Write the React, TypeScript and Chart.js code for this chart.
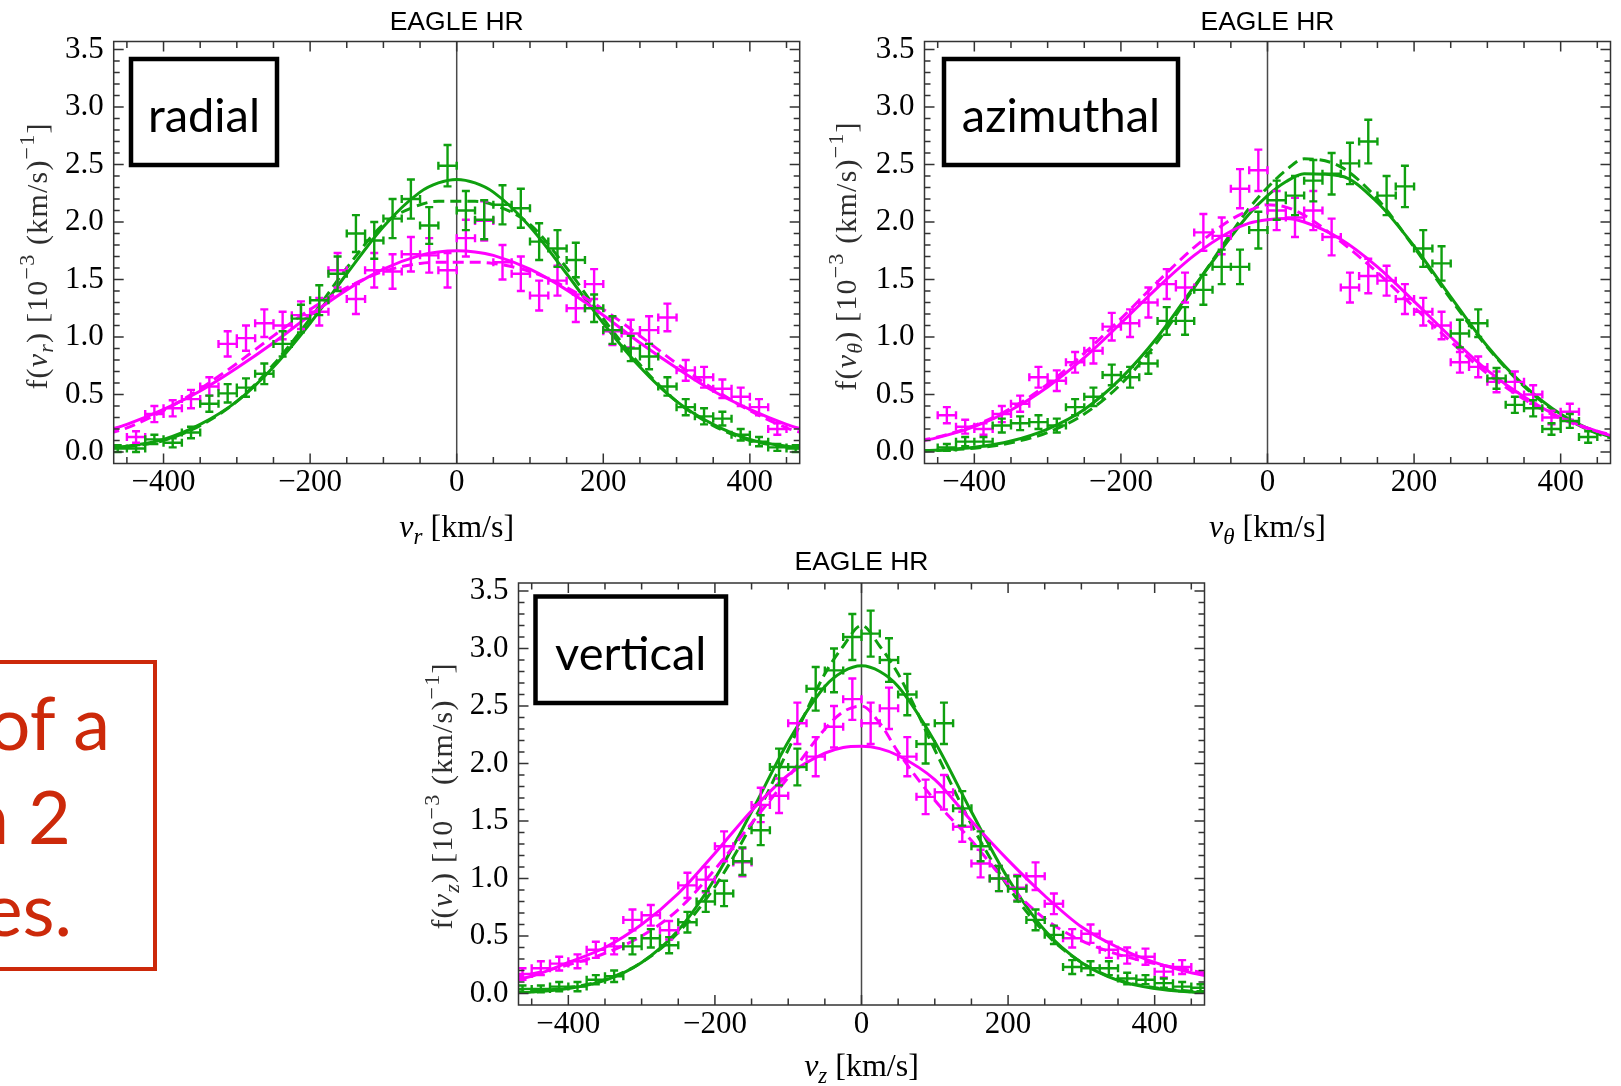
import React, { useEffect, useRef } from "react";
import { Chart, registerables } from "chart.js";

Chart.register(...registerables);

// ---------- data ----------
// histogram bin centres (km/s); horizontal error bar = half bin width
const BIN_CENTERS = [
  -462.5, -437.5, -412.5, -387.5, -362.5, -337.5, -312.5, -287.5, -262.5, -237.5,
  -212.5, -187.5, -162.5, -137.5, -112.5, -87.5, -62.5, -37.5, -12.5, 12.5,
  37.5, 62.5, 87.5, 112.5, 137.5, 162.5, 187.5, 212.5, 237.5, 262.5,
  287.5, 312.5, 337.5, 362.5, 387.5, 412.5, 437.5, 462.5,
];
const BIN_HALF_WIDTH = 12.5;

const RADIAL_GREEN = [0.03, 0.03, 0.11, 0.08, 0.17, 0.42, 0.51, 0.56, 0.68, 0.94, 1.16, 1.32, 1.55, 1.90, 1.84, 2.03, 2.20, 1.97, 2.49, 2.10, 2.02, 2.15, 2.12, 1.83, 1.77, 1.67, 1.25, 1.06, 0.90, 0.83, 0.57, 0.39, 0.31, 0.29, 0.15, 0.09, 0.04, 0.03];
const RADIAL_GREEN_ERR = [0.03, 0.03, 0.04, 0.04, 0.05, 0.07, 0.08, 0.08, 0.09, 0.11, 0.12, 0.13, 0.15, 0.16, 0.16, 0.17, 0.17, 0.16, 0.18, 0.17, 0.17, 0.17, 0.17, 0.16, 0.16, 0.15, 0.12, 0.12, 0.11, 0.11, 0.08, 0.07, 0.07, 0.06, 0.05, 0.04, 0.03, 0.03];
const RADIAL_MAGENTA = [null, 0.13, 0.33, 0.38, 0.46, 0.57, 0.94, 0.99, 1.12, 1.10, 1.19, 1.22, 1.58, 1.33, 1.58, 1.57, 1.72, 1.71, 1.58, 1.86, 2.01, 1.65, 1.55, 1.36, 1.49, 1.25, 1.46, 1.05, 1.03, 1.06, 1.17, 0.71, 0.65, 0.55, 0.48, 0.39, 0.20, null];
const RADIAL_MAGENTA_ERR = [null, 0.05, 0.07, 0.07, 0.08, 0.08, 0.11, 0.11, 0.12, 0.12, 0.12, 0.12, 0.15, 0.13, 0.15, 0.15, 0.15, 0.15, 0.15, 0.16, 0.17, 0.15, 0.15, 0.13, 0.13, 0.12, 0.13, 0.12, 0.12, 0.12, 0.12, 0.09, 0.09, 0.08, 0.08, 0.07, 0.05, null];

const AZIMUTHAL_GREEN = [null, 0.04, 0.09, 0.09, 0.23, 0.25, 0.26, 0.23, 0.39, 0.48, 0.67, 0.65, 0.77, 1.14, 1.14, 1.41, 1.61, 1.61, 1.93, 2.19, 2.23, 2.36, 2.42, 2.51, 2.70, 2.23, 2.31, 1.77, 1.64, 1.03, 1.12, 0.64, 0.41, 0.38, 0.20, 0.27, 0.13, null];
const AZIMUTHAL_GREEN_ERR = [null, 0.03, 0.04, 0.04, 0.06, 0.06, 0.06, 0.06, 0.07, 0.08, 0.09, 0.09, 0.09, 0.12, 0.12, 0.13, 0.15, 0.15, 0.16, 0.17, 0.17, 0.18, 0.18, 0.18, 0.19, 0.17, 0.18, 0.16, 0.15, 0.12, 0.12, 0.09, 0.07, 0.07, 0.05, 0.06, 0.05, null];
const AZIMUTHAL_MAGENTA = [null, 0.32, 0.22, 0.20, 0.33, 0.42, 0.65, 0.62, 0.78, 0.88, 1.09, 1.12, 1.30, 1.46, 1.43, 1.91, 1.88, 2.29, 2.45, 2.10, 2.04, 2.10, 1.87, 1.43, 1.53, 1.49, 1.33, 1.22, 1.10, 0.78, 0.74, 0.61, 0.61, 0.50, 0.30, 0.35, null, null];
const AZIMUTHAL_MAGENTA_ERR = [null, 0.07, 0.06, 0.05, 0.07, 0.07, 0.09, 0.09, 0.09, 0.11, 0.12, 0.12, 0.13, 0.13, 0.13, 0.16, 0.16, 0.17, 0.18, 0.17, 0.17, 0.17, 0.16, 0.13, 0.15, 0.13, 0.13, 0.12, 0.12, 0.09, 0.09, 0.09, 0.09, 0.08, 0.06, 0.07, null, null];

const VERTICAL_GREEN = [0.04, 0.04, 0.06, 0.06, 0.12, 0.15, 0.41, 0.48, 0.42, 0.62, 0.80, 0.87, 1.15, 1.42, 1.97, 1.97, 2.65, 2.81, 3.10, 3.13, 2.90, 2.60, 2.17, 2.35, 1.61, 1.28, 1.00, 0.91, 0.64, 0.51, 0.23, 0.22, 0.22, 0.13, 0.12, 0.09, 0.06, 0.05];
const VERTICAL_GREEN_ERR = [0.03, 0.03, 0.04, 0.04, 0.04, 0.05, 0.07, 0.08, 0.07, 0.09, 0.09, 0.11, 0.12, 0.13, 0.16, 0.16, 0.19, 0.19, 0.20, 0.20, 0.19, 0.18, 0.17, 0.18, 0.15, 0.13, 0.11, 0.11, 0.09, 0.08, 0.06, 0.06, 0.06, 0.05, 0.04, 0.04, 0.04, 0.03];
const VERTICAL_MAGENTA = [0.17, 0.22, 0.26, 0.28, 0.38, 0.41, 0.64, 0.68, 0.55, 0.94, 0.99, 1.28, 1.14, 1.64, 1.72, 2.35, 2.06, 2.32, 2.56, 2.35, 2.48, 2.06, 1.71, 1.75, 1.45, 1.13, 1.00, 0.92, 1.02, 0.78, 0.48, 0.52, 0.38, 0.33, 0.32, 0.19, 0.23, null];
const VERTICAL_MAGENTA_ERR = [0.05, 0.06, 0.06, 0.06, 0.07, 0.07, 0.09, 0.09, 0.08, 0.11, 0.11, 0.13, 0.12, 0.15, 0.15, 0.18, 0.17, 0.18, 0.18, 0.18, 0.18, 0.17, 0.15, 0.15, 0.13, 0.12, 0.11, 0.11, 0.12, 0.09, 0.08, 0.08, 0.07, 0.07, 0.07, 0.05, 0.06, null];

// fitted model curves, sampled at CURVE_X (solid = fit 1, dashed = fit 2)
const CURVE_X = [-475, -450, -400, -350, -300, -250, -200, -150, -100, -50, -25, 0, 25, 50, 100, 150, 200, 250, 300, 350, 400, 450, 475];

const RADIAL_GREEN_FIT = [0.035, 0.05, 0.11, 0.24, 0.44, 0.74, 1.12, 1.55, 1.96, 2.26, 2.34, 2.37, 2.34, 2.26, 1.96, 1.55, 1.12, 0.74, 0.44, 0.24, 0.11, 0.05, 0.035];
const RADIAL_GREEN_FIT2 = [0.03, 0.045, 0.10, 0.23, 0.44, 0.76, 1.16, 1.60, 1.98, 2.15, 2.18, 2.18, 2.18, 2.15, 1.98, 1.60, 1.16, 0.76, 0.44, 0.23, 0.10, 0.045, 0.03];
const RADIAL_MAGENTA_FIT = [0.19, 0.24, 0.37, 0.53, 0.73, 0.95, 1.19, 1.41, 1.59, 1.71, 1.74, 1.75, 1.74, 1.71, 1.59, 1.41, 1.19, 0.95, 0.73, 0.53, 0.37, 0.24, 0.19];
const RADIAL_MAGENTA_FIT2 = [0.16, 0.21, 0.36, 0.55, 0.77, 1.01, 1.24, 1.43, 1.57, 1.64, 1.65, 1.65, 1.65, 1.64, 1.57, 1.43, 1.24, 1.01, 0.77, 0.55, 0.36, 0.21, 0.16];

const AZIMUTHAL_GREEN_FIT = [0.010, 0.017, 0.042, 0.096, 0.20, 0.37, 0.64, 1.00, 1.44, 1.87, 2.07, 2.23, 2.35, 2.42, 2.40, 2.17, 1.79, 1.35, 0.92, 0.58, 0.33, 0.17, 0.12];
const AZIMUTHAL_GREEN_FIT2 = [0.008, 0.013, 0.033, 0.08, 0.17, 0.33, 0.59, 0.96, 1.43, 1.90, 2.12, 2.30, 2.45, 2.55, 2.48, 2.20, 1.78, 1.33, 0.91, 0.57, 0.32, 0.16, 0.11];
const AZIMUTHAL_MAGENTA_FIT = [0.092, 0.125, 0.22, 0.365, 0.566, 0.82, 1.12, 1.43, 1.71, 1.92, 1.99, 2.02, 2.03, 2.00, 1.85, 1.61, 1.31, 1.00, 0.71, 0.48, 0.30, 0.18, 0.13];
const AZIMUTHAL_MAGENTA_FIT2 = [0.10, 0.13, 0.23, 0.38, 0.59, 0.86, 1.16, 1.48, 1.78, 2.02, 2.10, 2.15, 2.13, 2.06, 1.83, 1.56, 1.26, 0.96, 0.68, 0.46, 0.29, 0.18, 0.14];

const VERTICAL_GREEN_FIT = [0.008, 0.014, 0.043, 0.114, 0.27, 0.55, 1.00, 1.58, 2.19, 2.67, 2.80, 2.85, 2.80, 2.67, 2.19, 1.58, 1.00, 0.55, 0.27, 0.114, 0.043, 0.014, 0.008];
const VERTICAL_GREEN_FIT2 = [0.012, 0.02, 0.05, 0.12, 0.27, 0.53, 0.93, 1.47, 2.12, 2.78, 3.02, 3.20, 3.02, 2.78, 2.12, 1.47, 0.93, 0.53, 0.27, 0.12, 0.05, 0.02, 0.012];
const VERTICAL_MAGENTA_FIT = [0.12, 0.15, 0.27, 0.40, 0.60, 0.87, 1.22, 1.59, 1.90, 2.09, 2.14, 2.15, 2.13, 2.07, 1.86, 1.50, 1.16, 0.85, 0.58, 0.40, 0.27, 0.18, 0.15];
const VERTICAL_MAGENTA_FIT2 = [0.14, 0.17, 0.25, 0.35, 0.50, 0.73, 1.08, 1.48, 1.88, 2.30, 2.45, 2.50, 2.35, 2.10, 1.68, 1.33, 0.95, 0.65, 0.46, 0.34, 0.26, 0.20, 0.17];

// axes
const X_MIN = -468;
const X_MAX = 468;
const Y_MIN = -0.1;
const Y_MAX = 3.57;
const X_TICK_LABELS = [-400, -200, 0, 200, 400];
const X_MINOR_TICKS = [-450, -350, -300, -250, -150, -100, -50, 50, 100, 150, 250, 300, 350, 450];
const Y_TICK_LABELS = [0, 0.5, 1, 1.5, 2, 2.5, 3, 3.5];
const Y_MINOR_STEP = 0.1;

const TITLE = "EAGLE HR";

// ---------- styles ----------
const GREEN = "#0fa00f";
const MAGENTA = "#ff00ff";
const SERIF = "'Liberation Serif', 'Times New Roman', serif";
const RED = "#cc290a";

type Seg = { t: string; it?: boolean; sub?: boolean; sup?: boolean };

function drawRich(
  ctx: CanvasRenderingContext2D,
  segs: Seg[],
  cx: number,
  baseline: number,
  size: number,
  color: string,
  spacing = 0
) {
  const font = (s: Seg) => `${s.it ? "italic " : ""}${s.sub || s.sup ? Math.round(size * 0.72) : size}px ${SERIF}`;
  (ctx as any).letterSpacing = `${spacing}px`;
  const widths = segs.map((s) => {
    ctx.font = font(s);
    return ctx.measureText(s.t).width;
  });
  const total = widths.reduce((a, b) => a + b, 0);
  let x = cx - total / 2;
  ctx.fillStyle = color;
  ctx.textAlign = "left";
  ctx.textBaseline = "alphabetic";
  segs.forEach((s, i) => {
    ctx.font = font(s);
    const dy = s.sub ? size * 0.22 : s.sup ? -size * 0.42 : 0;
    ctx.fillText(s.t, x, baseline + dy);
    x += widths[i];
  });
  (ctx as any).letterSpacing = "0px";
}

function points(ys: (number | null)[], errs: (number | null)[]) {
  const out: any[] = [];
  BIN_CENTERS.forEach((x, i) => {
    const y = ys[i];
    if (y != null) out.push({ x, y, e: errs[i] ?? 0 });
  });
  return out;
}

function curve(ys: number[]) {
  return CURVE_X.map((x, i) => ({ x, y: ys[i] }));
}

const PANELS = [
  {
    id: "radial", left: 0, top: 0, w: 812, h: 545,
    yAxisW: 113.7, padR: 12.3, padT: 41.5, xAxisH: 81.5,
    titleY: 23, xTitleY: 529, yTitleX: 39, yTitleCY: 256,
    sym: "r", label: "radial", box: [131, 59, 277, 165],
    green: RADIAL_GREEN, greenErr: RADIAL_GREEN_ERR, magenta: RADIAL_MAGENTA, magentaErr: RADIAL_MAGENTA_ERR,
    gFit: RADIAL_GREEN_FIT, gFit2: RADIAL_GREEN_FIT2, mFit: RADIAL_MAGENTA_FIT, mFit2: RADIAL_MAGENTA_FIT2,
  },
  {
    id: "azimuthal", left: 812, top: 0, w: 809, h: 545,
    yAxisW: 112.5, padR: 10.5, padT: 41.5, xAxisH: 81.5,
    titleY: 23, xTitleY: 529, yTitleX: 36, yTitleCY: 256,
    sym: "\u03b8", label: "azimuthal", box: [132, 59, 366, 165],
    green: AZIMUTHAL_GREEN, greenErr: AZIMUTHAL_GREEN_ERR, magenta: AZIMUTHAL_MAGENTA, magentaErr: AZIMUTHAL_MAGENTA_ERR,
    gFit: AZIMUTHAL_GREEN_FIT, gFit2: AZIMUTHAL_GREEN_FIT2, mFit: AZIMUTHAL_MAGENTA_FIT, mFit2: AZIMUTHAL_MAGENTA_FIT2,
  },
  {
    id: "vertical", left: 405, top: 545, w: 812, h: 541,
    yAxisW: 113.5, padR: 12.5, padT: 38, xAxisH: 81,
    titleY: 18.5, xTitleY: 523, yTitleX: 39.5, yTitleCY: 251,
    sym: "z", label: "vertical", box: [130.5, 51.5, 321, 158],
    green: VERTICAL_GREEN, greenErr: VERTICAL_GREEN_ERR, magenta: VERTICAL_MAGENTA, magentaErr: VERTICAL_MAGENTA_ERR,
    gFit: VERTICAL_GREEN_FIT, gFit2: VERTICAL_GREEN_FIT2, mFit: VERTICAL_MAGENTA_FIT, mFit2: VERTICAL_MAGENTA_FIT2,
  },
];

function makeDecor(cfg: any) {
  return {
    id: "mmaDecor",
    beforeDatasetsDraw(chart: any) {
      const { ctx, chartArea: a, scales } = chart;
      const px = scales.x.getPixelForValue(0);
      ctx.save();
      ctx.strokeStyle = "#4a4a4a";
      ctx.lineWidth = 1.5;
      ctx.beginPath();
      ctx.moveTo(px, a.top);
      ctx.lineTo(px, a.bottom);
      ctx.stroke();
      ctx.restore();
    },
    afterDatasetsDraw(chart: any) {
      const { ctx, chartArea: a } = chart;
      const x = chart.scales.x;
      const y = chart.scales.y;
      // error-bar crosses
      ctx.save();
      ctx.beginPath();
      ctx.rect(a.left, a.top, a.right - a.left, a.bottom - a.top);
      ctx.clip();
      ctx.lineWidth = 2.4;
      const c = 4;
      chart.data.datasets.forEach((ds: any) => {
        if (!ds.errorBars) return;
        ctx.strokeStyle = ds.crossColor;
        ctx.beginPath();
        ds.data.forEach((p: any) => {
          const cx = x.getPixelForValue(p.x);
          const cy = y.getPixelForValue(p.y);
          const xl = x.getPixelForValue(p.x - BIN_HALF_WIDTH);
          const xr = x.getPixelForValue(p.x + BIN_HALF_WIDTH);
          const yt = y.getPixelForValue(p.y + p.e);
          const yb = y.getPixelForValue(p.y - p.e);
          ctx.moveTo(xl, cy); ctx.lineTo(xr, cy);
          ctx.moveTo(cx, yt); ctx.lineTo(cx, yb);
          ctx.moveTo(xl, cy - c); ctx.lineTo(xl, cy + c);
          ctx.moveTo(xr, cy - c); ctx.lineTo(xr, cy + c);
          ctx.moveTo(cx - c, yt); ctx.lineTo(cx + c, yt);
          ctx.moveTo(cx - c, yb); ctx.lineTo(cx + c, yb);
        });
        ctx.stroke();
      });
      ctx.restore();

      // frame with inward ticks on all four sides
      ctx.save();
      ctx.strokeStyle = "#333";
      ctx.lineWidth = 1.5;
      ctx.strokeRect(a.left, a.top, a.right - a.left, a.bottom - a.top);
      ctx.beginPath();
      const xTick = (v: number, L: number) => {
        const p = x.getPixelForValue(v);
        ctx.moveTo(p, a.bottom); ctx.lineTo(p, a.bottom - L);
        ctx.moveTo(p, a.top); ctx.lineTo(p, a.top + L);
      };
      X_TICK_LABELS.forEach((v) => xTick(v, 10));
      X_MINOR_TICKS.forEach((v) => xTick(v, 6.5));
      const nY = Math.round(Y_TICK_LABELS[Y_TICK_LABELS.length - 1] / Y_MINOR_STEP);
      for (let k = 0; k <= nY; k++) {
        const v = k * Y_MINOR_STEP;
        const major = k % 5 === 0;
        const L = major ? 10 : 6;
        const p = y.getPixelForValue(v);
        ctx.moveTo(a.left, p); ctx.lineTo(a.left + L, p);
        ctx.moveTo(a.right, p); ctx.lineTo(a.right - L, p);
      }
      ctx.stroke();
      ctx.restore();
    },
    afterDraw(chart: any) {
      const { ctx, chartArea: a } = chart;
      const midX = (a.left + a.right) / 2;
      ctx.save();
      // title
      ctx.translate(midX, cfg.titleY);
      ctx.scale(1.06, 1);
      ctx.fillStyle = "#000";
      ctx.font = "25px 'Liberation Sans', Arial, sans-serif";
      ctx.textAlign = "center";
      ctx.textBaseline = "middle";
      ctx.fillText(TITLE, 0, 0);
      ctx.restore();

      // x axis title
      ctx.save();
      drawRich(ctx, [{ t: "v", it: true }, { t: cfg.sym, it: true, sub: true }, { t: " [km/s]" }], midX, cfg.xTitleY + 8, 32, "#000");
      ctx.restore();

      // y axis title
      ctx.save();
      ctx.translate(cfg.yTitleX, cfg.yTitleCY);
      ctx.rotate(-Math.PI / 2);
      drawRich(
        ctx,
        [
          { t: "f(" }, { t: "v", it: true }, { t: cfg.sym, it: true, sub: true }, { t: ") [10" },
          { t: "\u22123", sup: true }, { t: " (km/s)" }, { t: "\u22121", sup: true }, { t: "]" },
        ],
        0, 7.5, 30, "#2e2e2e", 1.2
      );
      ctx.restore();

      // label box
      const [bx0, by0, bx1, by1] = cfg.box;
      ctx.save();
      ctx.fillStyle = "#fff";
      ctx.fillRect(bx0, by0, bx1 - bx0, by1 - by0);
      ctx.lineWidth = 4.5;
      ctx.strokeStyle = "#000";
      ctx.strokeRect(bx0, by0, bx1 - bx0, by1 - by0);
      ctx.fillStyle = "#000";
      ctx.font = "47px Lato, 'Open Sans', sans-serif";
      ctx.textAlign = "center";
      ctx.textBaseline = "alphabetic";
      ctx.fillText(cfg.label, (bx0 + bx1) / 2, by0 + 73);
      ctx.restore();
    },
  };
}

function Panel({ cfg }: { cfg: any }) {
  const ref = useRef<HTMLCanvasElement>(null);
  useEffect(() => {
    if (!ref.current) return;
    const tickFont = { family: SERIF, size: 31 };
    const line = (ys: number[], color: string, dash: number[]) => ({
      data: curve(ys),
      showLine: true,
      borderColor: color,
      backgroundColor: color,
      borderWidth: 3,
      borderDash: dash,
      pointRadius: 0,
      cubicInterpolationMode: "monotone",
      fill: false,
    });
    const pts = (ys: any[], errs: any[], color: string) => ({
      data: points(ys, errs),
      showLine: false,
      pointRadius: 0,
      borderColor: color,
      backgroundColor: color,
      errorBars: true,
      crossColor: color,
    });
    const chart = new Chart(ref.current, {
      type: "scatter",
      data: {
        datasets: [
          line(cfg.mFit, MAGENTA, []),
          line(cfg.mFit2, MAGENTA, [11, 6]),
          line(cfg.gFit, GREEN, []),
          line(cfg.gFit2, GREEN, [11, 6]),
          pts(cfg.magenta, cfg.magentaErr, MAGENTA),
          pts(cfg.green, cfg.greenErr, GREEN),
        ] as any,
      },
      options: {
        animation: false,
        responsive: false,
        maintainAspectRatio: false,
        events: [],
        layout: { padding: { left: 0, right: cfg.padR, top: cfg.padT, bottom: 0 } },
        plugins: { legend: { display: false }, tooltip: { enabled: false }, title: { display: false } },
        scales: {
          x: {
            type: "linear",
            min: X_MIN,
            max: X_MAX,
            grid: { display: false, drawTicks: false },
            border: { display: false },
            afterBuildTicks: (s: any) => { s.ticks = X_TICK_LABELS.map((v) => ({ value: v })); },
            afterFit: (s: any) => { s.height = cfg.xAxisH; },
            ticks: {
              font: tickFont,
              color: "#000",
              padding: 1,
              autoSkip: false,
              maxRotation: 0,
              callback: (v: any) => (v < 0 ? "\u2212" + Math.abs(v) : String(v)),
            },
          },
          y: {
            type: "linear",
            min: Y_MIN,
            max: Y_MAX,
            grid: { display: false, drawTicks: false },
            border: { display: false },
            afterBuildTicks: (s: any) => { s.ticks = Y_TICK_LABELS.map((v) => ({ value: v })); },
            afterFit: (s: any) => { s.width = cfg.yAxisW; },
            ticks: {
              font: tickFont,
              color: "#000",
              padding: 10,
              autoSkip: false,
              callback: (v: any) => Number(v).toFixed(1),
            },
          },
        },
      } as any,
      plugins: [makeDecor(cfg)],
    });
    return () => chart.destroy();
  }, [cfg]);
  return (
    <canvas
      ref={ref}
      width={cfg.w}
      height={cfg.h}
      style={{ position: "absolute", left: cfg.left, top: cfg.top, width: cfg.w, height: cfg.h }}
    />
  );
}

const redText: React.CSSProperties = {
  position: "absolute",
  fontFamily: "Lato, 'Open Sans', sans-serif",
  fontSize: 74,
  lineHeight: "74px",
  color: RED,
  whiteSpace: "nowrap",
};

export default function App() {
  return (
    <div style={{ position: "absolute", left: 0, top: 0, width: 1621, height: 1086, overflow: "hidden", background: "#fff" }}>
      {PANELS.map((p) => (
        <Panel key={p.id} cfg={p} />
      ))}
      <div
        style={{
          position: "absolute", left: -20, top: 660, width: 177, height: 311,
          boxSizing: "border-box", border: `4px solid ${RED}`,
        }}
      />
      <span style={{ ...redText, right: 1621 - 110, top: 685 }}>of a</span>
      <span style={{ ...redText, right: 1621 - 71, top: 779 }}>n 2</span>
      <span style={{ ...redText, right: 1621 - 72, top: 871 }}>es.</span>
    </div>
  );
}
